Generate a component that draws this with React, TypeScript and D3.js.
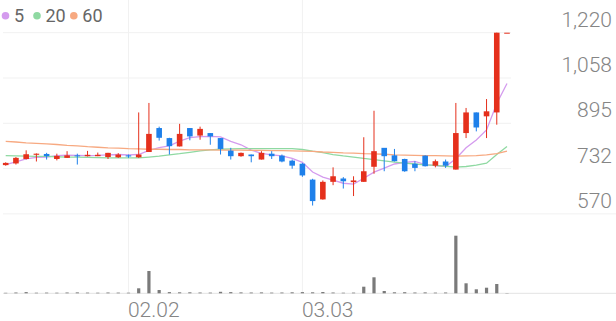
import React from "react";
import * as d3 from "d3";

const dates = [
  "01.15","01.16","01.19","01.20","01.21","01.22","01.23","01.26","01.27","01.28","01.29","01.30",
  "02.02","02.03","02.04","02.05","02.06","02.09","02.10","02.11","02.12","02.13","02.19","02.20",
  "02.23","02.24","02.25","02.26","02.27","03.03","03.04","03.05","03.06","03.09","03.10","03.11",
  "03.12","03.13","03.16","03.17","03.18","03.19","03.20","03.23","03.24","03.25","03.26","03.27",
  "03.30","03.31",
];

const opens = [745,751,767,782,785,767,771,780,777,777,774,773,780,773,792,878,842,812,878,851,860,842,797,777,783,765,786,779,761,750,693,622,685,697,684,685,739,807,780,767,750,779,743,758,729,860,934,920,934,1220];
const highs = [755,774,798,787,789,786,795,786,796,790,789,788,783,934,968,883,843,893,878,883,860,842,807,790,783,795,795,783,765,753,696,690,737,702,705,845,940,806,803,768,759,780,765,765,968,950,934,982,1220,1220];
const lows = [743,747,765,758,765,762,771,747,776,777,767,771,771,771,792,833,783,812,834,836,818,783,765,775,755,765,767,755,732,703,600,621,673,661,634,685,714,723,758,721,723,740,737,735,729,842,866,842,890,1220];
const closes = [753,771,784,786,777,778,780,778,782,782,789,783,776,783,857,843,813,857,848,875,848,803,777,789,777,789,777,758,743,708,616,685,705,687,690,723,795,777,759,723,735,741,759,743,860,934,880,938,1220,1220];
const volumes = [50000,80000,120000,60000,70000,60000,80000,90000,70000,60000,80000,70000,60000,500000,2230000,330000,120000,100000,100000,80000,70000,150000,120000,90000,80000,90000,70000,80000,100000,120000,100000,130000,80000,60000,70000,660000,1600000,230000,100000,110000,80000,90000,70000,80000,5760000,1000000,400000,560000,930000,30000];

const ma5 = [747,757,767,773,774,779,781,780,779,780,782,783,782,783,798,808,814,831,844,847,848,846,830,818,799,787,782,778,769,755,720,702,691,680,677,698,720,734,749,755,758,747,743,740,768,807,835,871,966,1038];
const ma20 = [779,778,777,776,776,775,774,774,773,772,771,771,771,771,774,777,782,786,791,796,800,802,803,804,804,804,804,804,804,801,795,790,783,778,774,769,765,760,756,752,749,746,744,741,738,740,745,752,783,812];
const ma60 = [830,828,825,823,821,819,816,814,811,809,807,806,804,803,802,802,801,801,800,800,800,799,799,799,798,798,797,797,796,795,794,792,791,789,788,786,785,784,782,781,780,779,779,778,777,778,779,782,786,795];

const priceTicks = [570, 732.5, 895, 1057.5, 1220];
const priceTickLabels = ["570", "732", "895", "1,058", "1,220"];
const dateTickLabels = ["02.02", "03.03"];
const legendLabels = ["5", "20", "60"];

const UP = "#e5301c";
const DOWN = "#1e80ea";
const MA_COLORS = ["#d49bee", "#8fd9a2", "#f7a981"];
const GRID = "#f1f1f1";
const TEXT = "#858585";
const FONT = "Roboto, 'Noto Sans', sans-serif";

export default function App() {
  const W = 616, H = 321;
  const x = d3.scalePoint<string>().domain(dates).range([5.7, 507]);
  const y = d3.scaleLinear().domain([570, 1220]).range([213.9, 32.7]);
  const yv = d3.scaleLinear().domain([0, d3.max(volumes) as number]).range([293.3, 235.7]);
  const bodyW = 5.6;
  const volW = 3.2;

  const line = (arr: number[]) =>
    d3.line<number>().x((_, i) => x(dates[i]) as number).y((d) => y(d)).curve(d3.curveLinear)(arr) || "";

  const mas = [ma5, ma20, ma60];

  return (
    <svg width={W} height={H} style={{ position: "absolute", left: 0, top: 0, background: "#fff" }} fontFamily={FONT}>
      {/* horizontal gridlines */}
      {priceTicks.map((t, i) =>
        i === 0 ? (
          <line key={t} x1={3} x2={W} y1={y(t)} y2={y(t)} stroke={GRID} strokeWidth={1} />
        ) : (
          <line key={t} x1={3} x2={511} y1={y(t)} y2={y(t)} stroke={GRID} strokeWidth={1} />
        )
      )}
      {/* vertical gridlines */}
      {dateTickLabels.map((d) => (
        <line key={d} x1={x(d)} x2={x(d)} y1={0} y2={293.3} stroke={GRID} strokeWidth={1} />
      ))}
      {/* volume baseline */}
      <line x1={3} x2={W} y1={293.3} y2={293.3} stroke="#e3e3e3" strokeWidth={1} />

      {/* moving averages */}
      {mas.map((m, i) => (
        <path key={i} d={line(m)} fill="none" stroke={MA_COLORS[i]} strokeWidth={1.3} />
      ))}

      {/* candles */}
      {dates.map((d, i) => {
        const cx = x(d) as number;
        const up = closes[i] >= opens[i];
        const col = up ? UP : DOWN;
        const top = y(Math.max(opens[i], closes[i]));
        const bot = y(Math.min(opens[i], closes[i]));
        return (
          <g key={d}>
            <line x1={cx} x2={cx} y1={y(highs[i])} y2={y(lows[i])} stroke={col} strokeWidth={1} />
            <rect x={cx - bodyW / 2} y={top} width={bodyW} height={Math.max(1, bot - top)} fill={col} />
          </g>
        );
      })}

      {/* volume bars */}
      {dates.map((d, i) => {
        const cx = x(d) as number;
        const t = yv(volumes[i]);
        return <rect key={d} x={cx - volW / 2} y={t} width={volW} height={293.3 - t} fill="#7a7a7a" />;
      })}

      {/* price labels */}
      {priceTicks.map((t, i) => (
        <text key={t} x={612} y={y(t) - 6} textAnchor="end" fontSize={21} fill={TEXT} fontWeight={300}>
          {priceTickLabels[i]}
        </text>
      ))}

      {/* date labels */}
      {dateTickLabels.map((d) => (
        <text key={d} x={(x(d) as number) - 0.5} y={316.5} fontSize={21} fill={TEXT} fontWeight={300}>
          {d}
        </text>
      ))}

      {/* legend */}
      {legendLabels.map((l, i) => {
        const cxs = [5.5, 37, 73.8];
        return (
          <g key={l}>
            <circle cx={cxs[i]} cy={15.7} r={3.8} fill={MA_COLORS[i]} />
            <text x={cxs[i] + 8.5} y={21.5} fontSize={18} fill="#666" fontWeight={400}>
              {l}
            </text>
          </g>
        );
      })}
    </svg>
  );
}
